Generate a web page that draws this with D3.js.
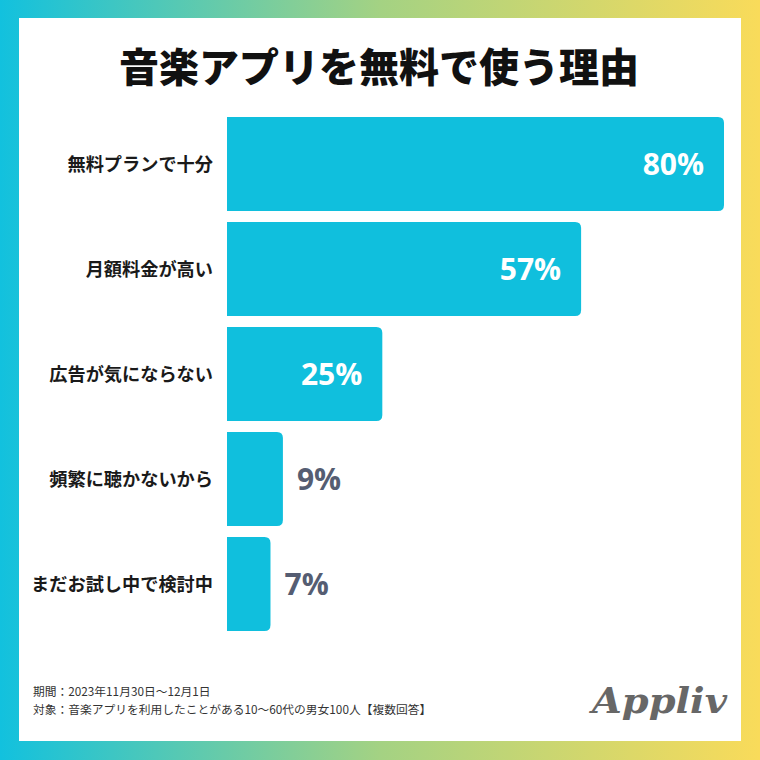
<!DOCTYPE html>
<html>
<head>
<meta charset="utf-8">
<script src="https://cdn.jsdelivr.net/npm/d3@7"></script>
<style>
  html, body { margin: 0; padding: 0; background: #fff; }
  svg { display: block; }
</style>
</head>
<body>
<svg id="chart" width="760" height="760"></svg>
<script>
var categories = ["無料プランで十分", "月額料金が高い", "広告が気にならない", "頻繁に聴かないから", "まだお試し中で検討中"];
var values = [80, 57, 25, 9, 7];
var title = "音楽アプリを無料で使う理由";
var notes = ["期間：2023年11月30日〜12月1日", "対象：音楽アプリを利用したことがある10〜60代の男女100人【複数回答】"];

var svg = d3.select("#chart");
var jp = "'Noto Sans CJK JP', 'Noto Sans', sans-serif";

// gradient frame
var defs = svg.append("defs");
var grad = defs.append("linearGradient")
    .attr("id", "frame")
    .attr("x1", "0%").attr("x2", "100%")
    .attr("y1", "0%").attr("y2", "0%");
grad.append("stop").attr("offset", "0%").attr("stop-color", "#12c1de");
grad.append("stop").attr("offset", "50%").attr("stop-color", "#a4d283");
grad.append("stop").attr("offset", "100%").attr("stop-color", "#f9db5a");

svg.append("rect")
    .attr("width", 760).attr("height", 760)
    .attr("fill", "url(#frame)");
svg.append("rect")
    .attr("x", 19).attr("y", 18)
    .attr("width", 722).attr("height", 723)
    .attr("fill", "#fff");

svg.append("text")
    .attr("x", 379)
    .attr("y", 82)
    .attr("text-anchor", "middle")
    .attr("font-family", jp)
    .attr("font-weight", 900)
    .attr("font-size", 40)
    .attr("fill", "#111")
    .text(title);

var x = d3.scaleLinear()
    .domain([0, 80])
    .range([227, 724]);

var y = d3.scaleBand()
    .domain(categories)
    .range([117, 631])
    .paddingInner(0.105);

var data = categories.map(function(c, i) { return {cat: c, value: values[i]}; });

// bar with rounded right corners
function barPath(d) {
  var x0 = x(0), x1 = x(d.value), y0 = y(d.cat), h = y.bandwidth(), r = 6;
  return "M" + x0 + "," + y0 +
    "H" + (x1 - r) +
    "Q" + x1 + "," + y0 + " " + x1 + "," + (y0 + r) +
    "V" + (y0 + h - r) +
    "Q" + x1 + "," + (y0 + h) + " " + (x1 - r) + "," + (y0 + h) +
    "H" + x0 + "Z";
}

var g = svg.append("g");

g.selectAll("path.bar")
  .data(data)
  .enter().append("path")
    .attr("class", "bar")
    .attr("d", barPath)
    .attr("fill", "#10bfdd");

g.selectAll("text.cat")
  .data(data)
  .enter().append("text")
    .attr("class", "cat")
    .attr("x", 213)
    .attr("y", function(d) { return y(d.cat) + y.bandwidth() / 2; })
    .attr("dy", "0.36em")
    .attr("text-anchor", "end")
    .attr("font-family", jp)
    .attr("font-weight", 700)
    .attr("font-size", 18.2)
    .attr("fill", "#1a1a1a")
    .text(function(d) { return d.cat; });

g.selectAll("text.val")
  .data(data)
  .enter().append("text")
    .attr("class", "val")
    .attr("x", function(d) { return d.value >= 20 ? x(d.value) - 20 : x(d.value) + 14; })
    .attr("y", function(d) { return y(d.cat) + y.bandwidth() / 2; })
    .attr("dy", "0.36em")
    .attr("text-anchor", function(d) { return d.value >= 20 ? "end" : "start"; })
    .attr("font-family", "'Open Sans', sans-serif")
    .attr("font-weight", 700)
    .attr("font-size", 30)
    .attr("fill", function(d) { return d.value >= 20 ? "#fff" : "#555d72"; })
    .text(function(d) { return d.value + "%"; });

// footnotes
svg.selectAll("text.note")
  .data(notes)
  .enter().append("text")
    .attr("class", "note")
    .attr("x", 33)
    .attr("y", function(d, i) { return 696 + i * 18; })
    .attr("font-family", jp)
    .attr("font-size", 11.75)
    .attr("fill", "#333")
    .text(function(d) { return d; });

// logo
svg.append("text")
    .attr("x", 592)
    .attr("y", 713)
    .attr("font-family", "'DejaVu Serif', serif")
    .attr("font-style", "italic")
    .attr("font-weight", 700)
    .attr("font-size", 36)
    .attr("textLength", 135)
    .attr("lengthAdjust", "spacingAndGlyphs")
    .attr("fill", "#676767")
    .text("Appliv");
</script>
</body>
</html>
